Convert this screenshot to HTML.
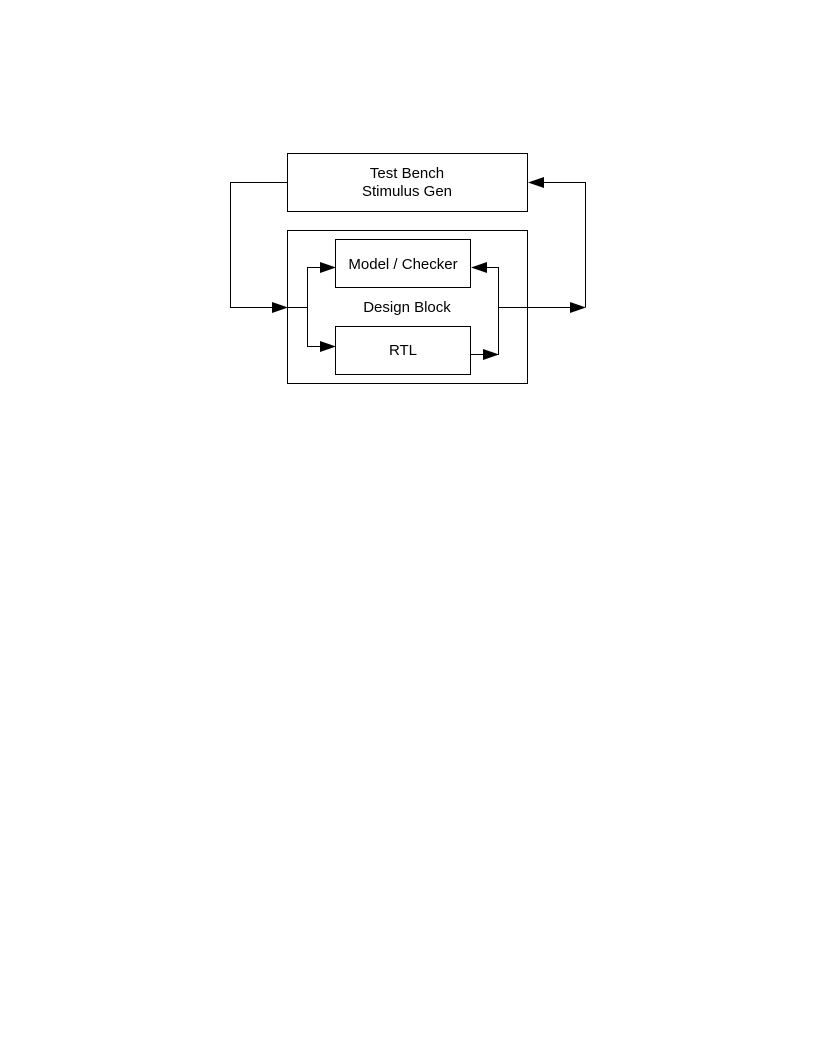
<!DOCTYPE html>
<html><head><style>body{margin:0;background:#fff}svg{display:block}</style></head>
<body>
<svg width="816" height="1056" xmlns="http://www.w3.org/2000/svg" font-family="Liberation Sans, sans-serif" font-size="15">
<g fill="none" stroke="#000" stroke-width="1">
<rect x="287.5" y="153.5" width="240" height="58"/>
<rect x="287.5" y="230.5" width="240" height="153"/>
<rect x="335.5" y="239.5" width="135" height="48"/>
<rect x="335.5" y="326.5" width="135" height="48"/>
<polyline points="287,182.5 230.5,182.5 230.5,307.5 280,307.5"/>
<polyline points="287,307.5 307.5,307.5"/>
<polyline points="320,267.5 307.5,267.5 307.5,346.5 320,346.5"/>
<polyline points="470,354.5 485,354.5"/>
<polyline points="485,267.5 498.5,267.5 498.5,354.5 490,354.5"/>
<polyline points="498.5,307.5 575,307.5"/>
<polyline points="585.5,307.5 585.5,182.5 540,182.5"/>
</g>
<g fill="#000">
<polygon points="288,307.5 272,302 272,313"/>
<polygon points="336,267.5 320,262 320,273"/>
<polygon points="336,346.5 320,341 320,352"/>
<polygon points="499,354.5 483,349 483,360"/>
<polygon points="471,267.5 487,262 487,273"/>
<polygon points="586,307.5 570,302 570,313"/>
<polygon points="528,182.5 544,177 544,188"/>
</g>
<g text-anchor="middle" fill="#000">
<text x="407" y="178">Test Bench</text>
<text x="407" y="196">Stimulus Gen</text>
<text x="403" y="269">Model / Checker</text>
<text x="407" y="312">Design Block</text>
<text x="403" y="355">RTL</text>
</g>
</svg>
</body></html>
